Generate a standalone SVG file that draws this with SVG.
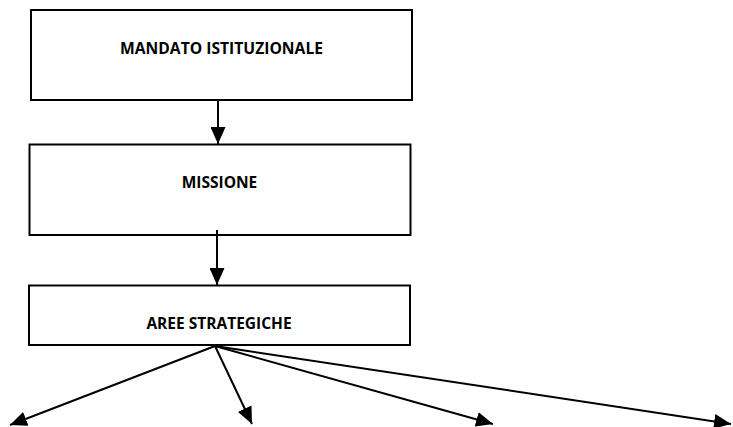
<svg xmlns="http://www.w3.org/2000/svg" width="733" height="427" viewBox="0 0 733 427">
<defs>
<style>
.box{fill:#fff;stroke:#000;stroke-width:2}
.lbl{font-family:"Open Sans","Liberation Sans",sans-serif;font-weight:bold;font-size:15.5px;fill:#000;text-anchor:middle}
.con{stroke:#000;stroke-width:2;fill:none;marker-end:url(#ah)}
</style>
<marker id="ah" markerUnits="userSpaceOnUse" markerWidth="17" markerHeight="15" viewBox="0 0 17 15" refX="17" refY="7.5" orient="auto">
<path d="M0,0 L17,7.5 L0,15 Z" fill="#000"/>
</marker>
</defs>
<rect width="733" height="427" fill="#fff"/>
<g id="node-mandato">
<rect class="box" x="31" y="10" width="381" height="90"/>
<text class="lbl" x="221.5" y="54" textLength="203" lengthAdjust="spacingAndGlyphs">MANDATO ISTITUZIONALE</text>
</g>
<g id="node-missione">
<rect class="box" x="29.5" y="144.5" width="381" height="90.5"/>
<text class="lbl" x="219.5" y="188">MISSIONE</text>
</g>
<g id="node-aree">
<rect class="box" x="29" y="285.5" width="381" height="59.5"/>
<text class="lbl" x="219" y="329">AREE STRATEGICHE</text>
</g>
<g id="connectors">
<line class="con" x1="218" y1="101" x2="218" y2="144"/>
<line class="con" x1="217" y1="230" x2="217" y2="285"/>
<line class="con" x1="215" y1="346" x2="10" y2="425"/>
<line class="con" x1="215" y1="346" x2="252" y2="424"/>
<line class="con" x1="215" y1="346" x2="493" y2="424"/>
<line class="con" x1="215" y1="346" x2="731" y2="424"/>
</g>
</svg>
